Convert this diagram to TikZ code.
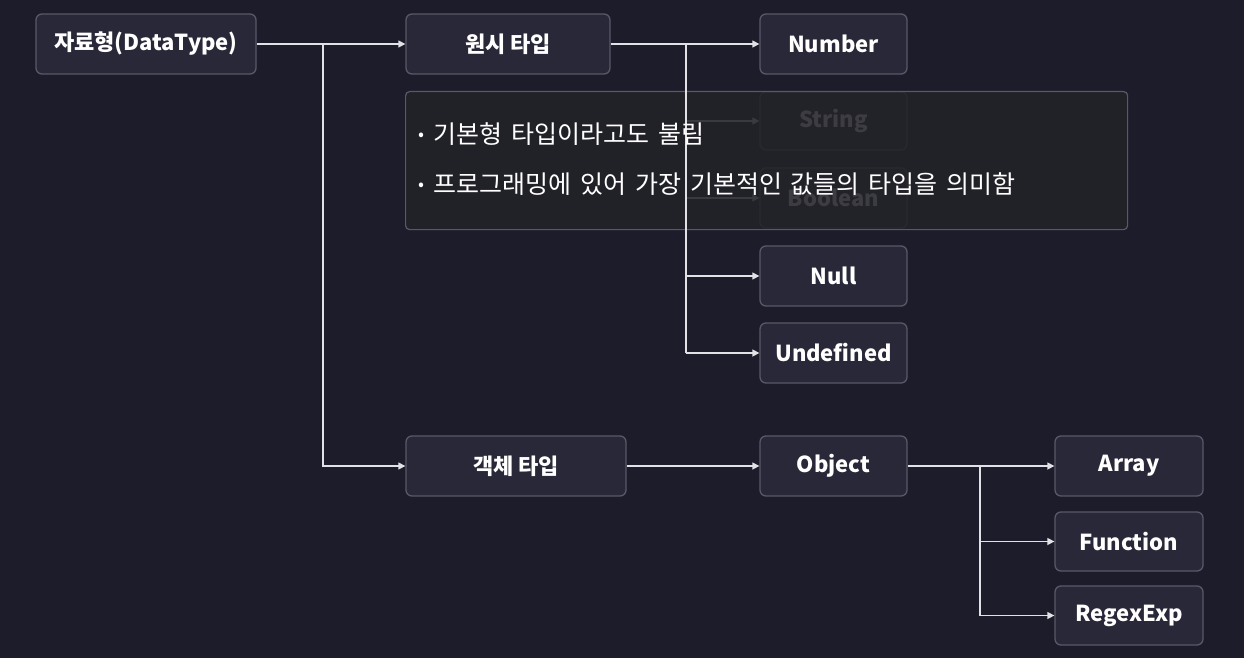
\documentclass[tikz,border=0pt]{standalone}
\usepackage{fontspec}
\setmainfont{Noto Sans CJK KR}
\newfontfamily\tipfont{Noto Sans CJK KR}[WordSpace=1.6]
\usetikzlibrary{arrows.meta}
\definecolor{bg}{RGB}{28,28,43}
\definecolor{nodefill}{RGB}{40,40,56}
\definecolor{nodeborder}{RGB}{88,88,104}
\definecolor{linec}{RGB}{225,225,230}
\definecolor{overlayfill}{RGB}{34,34,40}
\tikzset{
  box/.style={draw=nodeborder, fill=nodefill, rounded corners=6pt, line width=1.3pt,
    text=white, font=\fontsize{22}{25}\selectfont\bfseries, inner sep=0pt, anchor=center},
  conn/.style={draw=linec, line width=1.4pt, -{Triangle[length=7pt,width=7pt]}},
  plain/.style={draw=linec, line width=1.4pt},
  tiptext/.style={text=white, font=\tipfont\fontsize{25}{28}\selectfont, anchor=west, inner sep=0pt},
}
\newcommand{\tipdot}{\raisebox{0.2ex}{\scalebox{0.7}{•}}\kern 9pt}
\begin{document}
\begin{tikzpicture}[x=1pt,y=-1pt]
\fill[bg] (0,0) rectangle (1244,658);
\useasboundingbox (0,0) rectangle (1244,658);
% nodes
\node[box, minimum width=220pt, minimum height=60pt] (dt) at (146,44) {자료형(DataType)};
\node[box, minimum width=204pt, minimum height=60pt] (prim) at (508,44) {원시 타입};
\node[box, minimum width=220pt, minimum height=60pt] (objt) at (516,466) {객체 타입};
\node[box, minimum width=147pt, minimum height=60pt] (num) at (833.5,44) {Number};
\node[box, minimum width=147pt, minimum height=58pt] (str) at (833.5,121) {String};
\node[box, minimum width=147pt, minimum height=60pt] (bool) at (833.5,198) {Boolean};
\node[box, minimum width=147pt, minimum height=60pt] (null) at (833.5,276) {Null};
\node[box, minimum width=147pt, minimum height=60pt] (undef) at (833.5,353) {Undefined};
\node[box, minimum width=147pt, minimum height=60pt] (obj) at (833.5,466) {Object};
\node[box, minimum width=148pt, minimum height=60pt] (arr) at (1129,466) {Array};
\node[box, minimum width=148pt, minimum height=59pt] (func) at (1129,541.5) {Function};
\node[box, minimum width=148pt, minimum height=59pt] (rex) at (1129,615.5) {RegexExp};
% coordinates for branch points
\coordinate (b1) at (323,44);
\coordinate (b2) at (686,44);
\coordinate (b3) at (980,466);
% connectors
\draw[conn] (dt.east) -- (prim.west);
\draw[conn] (b1) |- (objt.west);
\draw[conn] (prim.east) -- (num.west);
\draw[conn] (b2 |- str.west) -- (str.west);
\draw[conn] (b2 |- bool.west) -- (bool.west);
\draw[conn] (b2 |- null.west) -- (null.west);
\draw[conn] (b2 |- undef.west) -- (undef.west);
\draw[conn] (objt.east) -- (obj.west);
\draw[conn] (obj.east) -- (arr.west);
\draw[conn] (b3 |- func.west) -- (func.west);
\draw[conn] (b3 |- rex.west) -- (rex.west);
\draw[plain] (b3) -- (b3 |- rex.west);
% overlay tooltip
\node[draw=nodeborder, fill=overlayfill, fill opacity=0.88, line width=1.2pt, rounded corners=4pt,
  minimum width=722pt, minimum height=138pt, inner sep=0pt, anchor=north west] (tip) at (405,91) {};
\draw[plain] (b2) -- (b2 |- undef.west);
\node[tiptext] (l1) at (418,134) {\tipdot 기본형 타입이라고도 불림};
\node[tiptext] (l2) at (418,184) {\tipdot 프로그래밍에 있어 가장 기본적인 값들의 타입을 의미함};
\end{tikzpicture}
\end{document}
